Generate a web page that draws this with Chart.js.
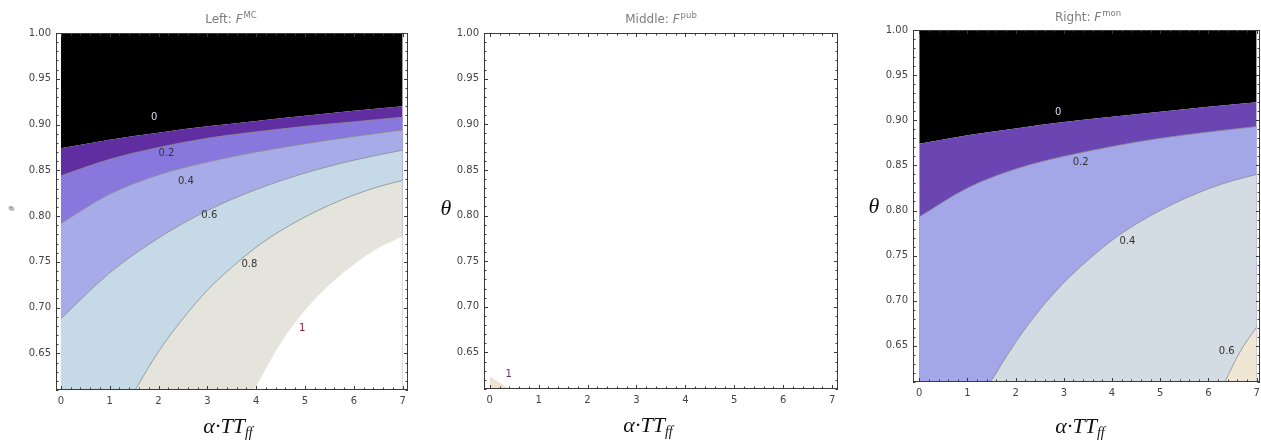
<!DOCTYPE html>
<html>
<head>
<meta charset="utf-8">
<script src="https://cdn.jsdelivr.net/npm/chart.js@4.4.1/dist/chart.umd.min.js"></script>
<style>
  body { margin: 0; width: 1261px; height: 440px; position: relative; background: #fff; overflow: hidden; }
  canvas { position: absolute; top: 0; }
  .title { position: absolute; font-family: "DejaVu Sans", sans-serif; font-size: 12px; line-height: 12px; color: #7d7d7d; white-space: nowrap; transform: translateX(-50%); }
  .title sup { font-size: 8.5px; position: relative; top: -5px; vertical-align: baseline; margin-left: 1px; }
  .xlab, .ylab { position: absolute; font-family: "Liberation Serif", "DejaVu Serif", serif; font-style: italic; font-size: 22px; line-height: 22px; color: #111; white-space: nowrap; transform: translateX(-50%); }
  .xlab sub { font-size: 14px; vertical-align: -4px; }
  .tiny { position: absolute; left: 10px; top: 204px; font-family: "Liberation Serif", serif; font-style: italic; font-size: 8px; color: #333; transform: rotate(-90deg); }
</style>
</head>
<body>
<canvas id="left" width="420" height="440" style="left:0px"></canvas>
<canvas id="middle" width="430" height="440" style="left:420px"></canvas>
<canvas id="right" width="411" height="440" style="left:850px"></canvas>

<div class="title" style="left:231px;top:13px">Left: <i>F</i><sup>MC</sup></div>
<div class="title" style="left:661px;top:13px">Middle: <i>F</i><sup>pub</sup></div>
<div class="title" style="left:1088px;top:11px">Right: <i>F</i><sup>mon</sup></div>

<div class="xlab" style="left:228px;top:415px">α·TT<sub>ff</sub></div>
<div class="xlab" style="left:648px;top:414px">α·TT<sub>ff</sub></div>
<div class="xlab" style="left:1080px;top:415px">α·TT<sub>ff</sub></div>
<div class="tiny">θ</div>
<div class="ylab" style="left:446px;top:197px">θ</div>
<div class="ylab" style="left:874px;top:195px">θ</div>

<script>
const xTicks = [0, 1, 2, 3, 4, 5, 6, 7];
const yTicks = [0.65, 0.70, 0.75, 0.80, 0.85, 0.90, 0.95, 1.00];

// Left: F^MC, contour boundaries theta(alpha*TT_ff)
const mcX = [0, 1, 2, 3, 4, 5, 6, 7];
const mcLevel0 = [0.874, 0.8835, 0.891, 0.898, 0.904, 0.9095, 0.915, 0.920];
const mcLevel02 = [0.844, 0.862, 0.875, 0.885, 0.892, 0.898, 0.903, 0.908];
const mcLevel04 = [0.792, 0.824, 0.845, 0.859, 0.870, 0.879, 0.887, 0.894];
const mcLevel06 = [0.688, 0.738, 0.776, 0.806, 0.829, 0.847, 0.861, 0.872];
const mcX08 = [1.52, 2, 2.5, 3, 3.5, 4, 4.5, 5, 5.5, 6, 6.5, 7];
const mcLevel08 = [0.61, 0.652, 0.688, 0.719, 0.744, 0.766, 0.784, 0.799, 0.812, 0.823, 0.832, 0.839];
const mcX1 = [3.96, 4.5, 5, 5.5, 6, 6.5, 7];
const mcLevel1 = [0.61, 0.661, 0.697, 0.725, 0.747, 0.765, 0.778];
const mcLabels = ['0', '0.2', '0.4', '0.6', '0.8', '1'];
const mcLabelX = [1.91, 2.16, 2.56, 3.04, 3.86, 4.94];
const mcLabelY = [0.908, 0.868, 0.838, 0.801, 0.747, 0.677];

// Middle: F^pub
const pubX1 = [0, 0.41];
const pubLevel1 = [0.624, 0.61];
const pubLabels = ['1'];
const pubLabelX = [0.39];
const pubLabelY = [0.626];

// Right: F^mon
const monX = [0, 1, 2, 3, 4, 5, 6, 7];
const monLevel0 = [0.874, 0.8835, 0.891, 0.898, 0.904, 0.9095, 0.915, 0.920];
const monLevel02 = [0.793, 0.825, 0.846, 0.860, 0.871, 0.880, 0.887, 0.893];
const monX04 = [1.48, 2, 2.5, 3, 3.5, 4, 4.5, 5, 5.5, 6, 6.5, 7];
const monLevel04 = [0.61, 0.654, 0.690, 0.720, 0.745, 0.767, 0.785, 0.800, 0.813, 0.824, 0.833, 0.840];
const monX06 = [6.34, 6.65, 7];
const monLevel06 = [0.61, 0.643, 0.671];
const monLabels = ['0', '0.2', '0.4', '0.6'];
const monLabelX = [2.88, 3.35, 4.32, 6.38];
const monLabelY = [0.909, 0.853, 0.766, 0.644];

const EDGE = '#8c8c8c';
const tickFont = { family: 'DejaVu Sans', size: 10 };

function series(xs, ys) {
  return xs.map((v, i) => ({ x: v, y: ys[i] }));
}

function layer(xs, ys, color, target, edge) {
  return {
    data: series(xs, ys),
    fill: target,
    backgroundColor: color,
    borderColor: edge || 'rgba(0,0,0,0)',
    borderWidth: edge ? 0.8 : 0,
    pointRadius: 0,
    cubicInterpolationMode: 'monotone'
  };
}

const frameTicks = {
  id: 'frameTicks',
  afterDatasetsDraw(chart) {
    const { ctx, chartArea: a } = chart;
    const sx = chart.scales.x, sy = chart.scales.y;
    ctx.save();
    ctx.strokeStyle = '#3a3a3a';
    ctx.lineWidth = 1;
    ctx.beginPath();
    for (let k = 0; k <= 35; k++) {
      const px = Math.round(sx.getPixelForValue(k * 0.2)) + 0.5;
      const len = k % 5 === 0 ? 4 : 2.5;
      ctx.moveTo(px, a.bottom); ctx.lineTo(px, a.bottom - len);
      ctx.moveTo(px, a.top); ctx.lineTo(px, a.top + len);
    }
    for (let k = 61; k <= 100; k++) {
      const py = Math.round(sy.getPixelForValue(k / 100)) + 0.5;
      const len = k % 5 === 0 ? 4 : 2.5;
      ctx.moveTo(a.left, py); ctx.lineTo(a.left + len, py);
      ctx.moveTo(a.right, py); ctx.lineTo(a.right - len, py);
    }
    ctx.stroke();
    ctx.strokeRect(Math.round(a.left) + 0.5, Math.round(a.top) + 0.5,
      Math.round(a.right - a.left) - 1, Math.round(a.bottom - a.top) - 1);
    ctx.restore();
  }
};

const contourLabels = {
  id: 'contourLabels',
  afterDatasetsDraw(chart, args, opts) {
    const { ctx } = chart;
    const sx = chart.scales.x, sy = chart.scales.y;
    ctx.save();
    ctx.font = '10px "DejaVu Sans"';
    ctx.textAlign = 'center';
    ctx.textBaseline = 'middle';
    opts.texts.forEach((t, i) => {
      ctx.fillStyle = opts.colors[i];
      ctx.fillText(t, sx.getPixelForValue(opts.xs[i]), sy.getPixelForValue(opts.ys[i]));
    });
    ctx.restore();
  }
};

function makePanel(id, layers, box, labels) {
  const datasets = layers.map((d, i) => Object.assign(d, { order: layers.length - i }));
  return new Chart(document.getElementById(id), {
    type: 'line',
    data: { datasets },
    plugins: [frameTicks, contourLabels],
    options: {
      responsive: false,
      animation: false,
      layout: { padding: { top: box.top, right: box.right, left: 0, bottom: 0 } },
      plugins: {
        legend: { display: false },
        tooltip: { enabled: false },
        contourLabels: labels
      },
      scales: {
        x: {
          type: 'linear', min: box.xmin, max: box.xmax,
          afterBuildTicks: s => { s.ticks = xTicks.map(v => ({ value: v })); },
          afterFit: s => { s.height = box.xh; s.paddingLeft = 0; s.paddingRight = 0; },
          grid: { display: false, drawTicks: false },
          border: { display: false },
          ticks: { font: tickFont, color: '#444', padding: 5, maxRotation: 0, autoSkip: false, callback: v => String(v) }
        },
        y: {
          type: 'linear', min: 0.61, max: 1.0,
          afterBuildTicks: s => { s.ticks = yTicks.map(v => ({ value: v })); },
          afterFit: s => { s.width = box.yw; s.paddingTop = 0; s.paddingBottom = 0; },
          grid: { display: false, drawTicks: false },
          border: { display: false },
          ticks: { font: tickFont, color: '#444', padding: 5, autoSkip: false, callback: v => v.toFixed(2) }
        }
      }
    }
  });
}

makePanel('left', [
  layer(mcX, mcLevel0, '#000000', 'end'),
  layer(mcX, mcLevel0, '#602ea0', 'start'),
  layer(mcX, mcLevel02, '#8878dd', 'start', EDGE),
  layer(mcX, mcLevel04, '#a7abe8', 'start', EDGE),
  layer(mcX, mcLevel06, '#c5d9e6', 'start', EDGE),
  layer(mcX08, mcLevel08, '#e4e3dc', 'start', EDGE),
  layer(mcX1, mcLevel1, '#ffffff', 'start')
], { top: 33, right: 12, yw: 56, xh: 50, xmin: -0.10, xmax: 7.11 },
{ texts: mcLabels, xs: mcLabelX, ys: mcLabelY, colors: ['#cfdff0', '#333', '#333', '#333', '#333', '#8b1a2a'] });

makePanel('middle', [
  layer(pubX1, pubLevel1, '#ece4d0', 'start')
], { top: 33, right: 12, yw: 64, xh: 51, xmin: -0.117, xmax: 7.12 },
{ texts: pubLabels, xs: pubLabelX, ys: pubLabelY, colors: ['#553366'] });

makePanel('right', [
  layer(monX, monLevel0, '#000000', 'end'),
  layer(monX, monLevel0, '#6b45b1', 'start'),
  layer(monX, monLevel02, '#a3a7e7', 'start', EDGE),
  layer(monX04, monLevel04, '#d3dce2', 'start', EDGE),
  layer(monX06, monLevel06, '#efe6d3', 'start', EDGE)
], { top: 30, right: 1, yw: 63, xh: 58, xmin: -0.13, xmax: 7.07 },
{ texts: monLabels, xs: monLabelX, ys: monLabelY, colors: ['#cfdff0', '#333', '#333', '#333'] });
</script>
</body>
</html>
